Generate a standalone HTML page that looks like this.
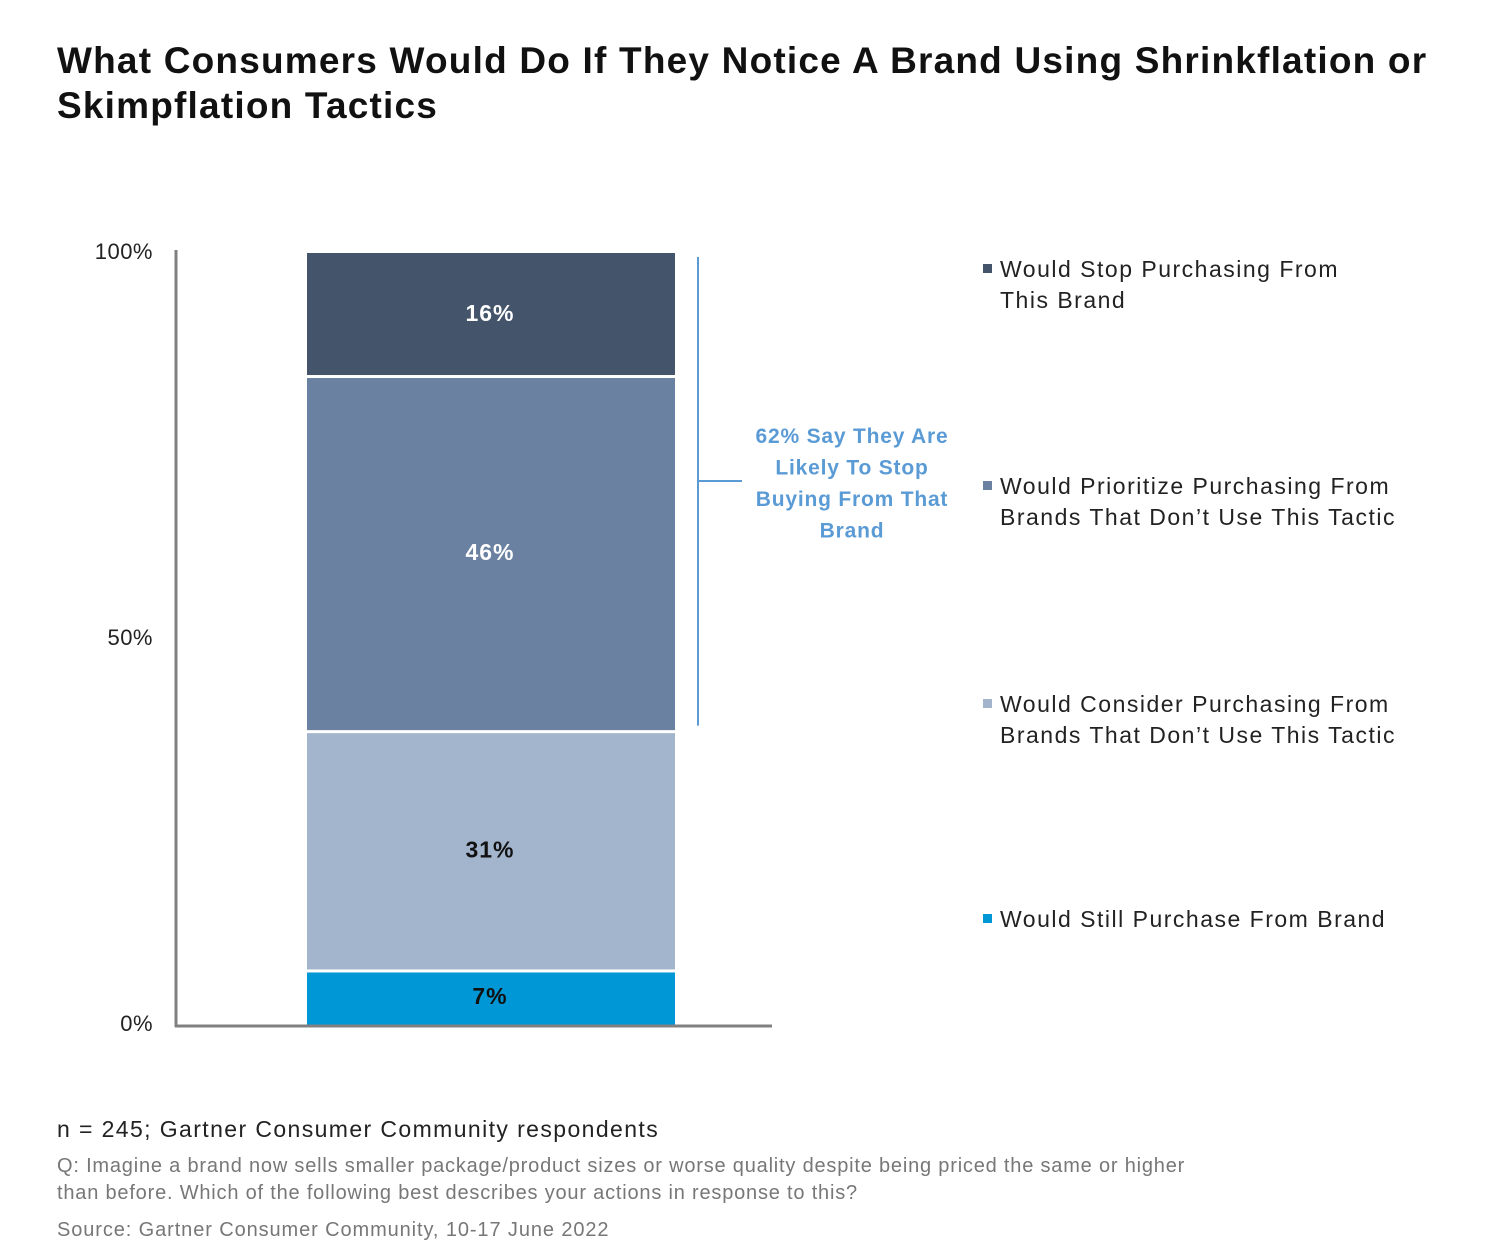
<!DOCTYPE html>
<html><head><meta charset="utf-8"><style>
body{margin:0;background:#fff;font-family:"Liberation Sans",Arial,sans-serif;}
#wrap{position:relative;width:1488px;height:1250px;overflow:hidden;background:#fff;}
.t{position:absolute;white-space:nowrap;}
</style></head><body>
<div id="wrap">
<div class="t" style="left:57px;top:38px;font-size:37px;font-weight:bold;line-height:45px;color:#111;letter-spacing:1.2px;">What Consumers Would Do If They Notice A Brand Using Shrinkflation or<br>Skimpflation Tactics</div>
<svg id="chart" width="1488" height="1250" style="position:absolute;left:0;top:0"></svg>
<div class="t" style="left:57px;top:1116px;font-size:23px;color:#222;letter-spacing:1.4px;">n = 245; Gartner Consumer Community respondents</div>
<div class="t" style="left:57px;top:1153px;font-size:20px;line-height:27px;color:#777;letter-spacing:0.8px;">Q: Imagine a brand now sells smaller package/product sizes or worse quality despite being priced the same or higher<br>than before. Which of the following best describes your actions in response to this?</div>
<div class="t" style="left:57px;top:1219px;font-size:20px;color:#777;letter-spacing:0.9px;">Source: Gartner Consumer Community, 10-17 June 2022</div>
</div>
<script>
const categories=["Would Still Purchase From Brand","Would Consider Purchasing From Brands That Don’t Use This Tactic","Would Prioritize Purchasing From Brands That Don’t Use This Tactic","Would Stop Purchasing From This Brand"];
const values=[7,31,46,16];
const valueLabels=["7%","31%","46%","16%"];
const tickValues=[0,50,100];
const tickLabels=["0%","50%","100%"];
const legendLines=[["Would Still Purchase From Brand"],["Would Consider Purchasing From","Brands That Don’t Use This Tactic"],["Would Prioritize Purchasing From","Brands That Don’t Use This Tactic"],["Would Stop Purchasing From","This Brand"]];
const legendY=[919,704,486,269];
const colors=["#0097d7","#a3b4cd","#6b81a1","#44546a"];
const textColors=["#111","#111","#fff","#fff"];
const NS="http://www.w3.org/2000/svg";
const svg=document.getElementById('chart');
const y0=1025,y1=253;
const y=v=>y0-(v/100)*(y0-y1);
function mk(tag,attrs){const e=document.createElementNS(NS,tag);for(const k in attrs)e.setAttribute(k,attrs[k]);svg.appendChild(e);return e;}
tickValues.forEach((t,i)=>{
 const e=mk('text',{x:153,y:y(t)+6,'text-anchor':'end','font-size':22,fill:'#222','font-family':'Liberation Sans, sans-serif','letter-spacing':'0.5'});
 e.textContent=tickLabels[i];
 
 
});
let cum=0;
values.forEach((v,i)=>{
 const top=y(cum+v),bot=y(cum);
 const r=mk('rect',{x:307,y:top+(i<values.length-1?1.5:0),width:368,height:Math.max(0,bot-top-(i<values.length-1?1.5:0)-(i>0?1.5:0)),fill:colors[i]});
 
 
 const t=mk('text',{x:490,y:(top+bot)/2+6,'text-anchor':'middle','font-size':23,'font-weight':'bold',fill:textColors[i],'font-family':'Liberation Sans, sans-serif','letter-spacing':'1'});
 t.textContent=valueLabels[i];
 
 
 cum+=v;
});
const ya=mk('line',{x1:176,y1:250,x2:176,y2:1027,stroke:'#808080','stroke-width':3});


const xa=mk('line',{x1:175,y1:1026,x2:772,y2:1026,stroke:'#808080','stroke-width':3});


const bTop=y(100)+4,bBot=y(values[0]+values[1])-6;
const b1=mk('line',{x1:698,y1:bTop,x2:698,y2:bBot,stroke:'#5b9bd5','stroke-width':2});


const b2=mk('line',{x1:699,y1:481,x2:742,y2:481,stroke:'#5b9bd5','stroke-width':2});


["62% Say They Are","Likely To Stop","Buying From That","Brand"].forEach((s,i)=>{
 const t=mk('text',{x:852,y:443+i*31.5,'text-anchor':'middle','font-size':21,'font-weight':'bold',fill:'#5b9bd5','font-family':'Liberation Sans, sans-serif','letter-spacing':'0.8'});
 t.textContent=s;
 
 
});
legendLines.forEach((lines,i)=>{
 const r=mk('rect',{x:983,y:legendY[i]-5,width:9,height:9,fill:colors[i]});
 
 
 lines.forEach((s,j)=>{
  const t=mk('text',{x:1000,y:legendY[i]+8+j*31,'font-size':23,fill:'#222','font-family':'Liberation Sans, sans-serif','letter-spacing':'1.5'});
  t.textContent=s;
  
  
 });
});
</script>
</body></html>
